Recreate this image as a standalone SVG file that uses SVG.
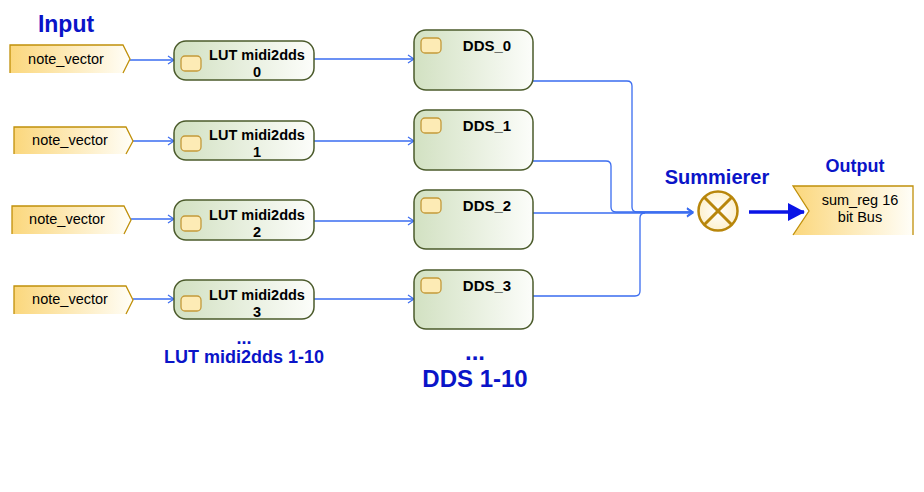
<svg xmlns="http://www.w3.org/2000/svg" width="924" height="492" viewBox="0 0 924 492">
<defs>
<linearGradient id="gNode" x1="0" y1="0" x2="1" y2="0">
<stop offset="0" stop-color="#d2e1c2"/>
<stop offset="1" stop-color="#fcfdfa"/>
</linearGradient>
<linearGradient id="gPort" x1="0" y1="0" x2="1" y2="0">
<stop offset="0" stop-color="#fbd77c"/>
<stop offset="1" stop-color="#fffef8"/>
</linearGradient>
<radialGradient id="gSum" cx="0.5" cy="0.5" r="0.6">
<stop offset="0" stop-color="#ffffff"/>
<stop offset="1" stop-color="#fdeec4"/>
</radialGradient>
<marker id="open" markerWidth="8" markerHeight="10" refX="7" refY="5" orient="auto" markerUnits="userSpaceOnUse">
<path d="M1,1 L7,5 L1,9" fill="none" stroke="#3a6cf0" stroke-width="1.2"/>
</marker>
<marker id="solid" markerWidth="18" markerHeight="20" refX="16" refY="10" orient="auto" markerUnits="userSpaceOnUse">
<path d="M0,1 L17,10 L0,19 Z" fill="#0a14e6"/>
</marker>
<style>
.node{fill:url(#gNode);stroke:#4b5b2b;stroke-width:1.5}
.pin{fill:#fdebb5;stroke:#c49a3a;stroke-width:1.3}
.port{fill:url(#gPort);stroke:none}
.edge{fill:none;stroke:#c0900a;stroke-width:1.3}
.conn{fill:none;stroke:#3a6cf0;stroke-width:1.3}
.t{font-family:"Liberation Sans",Arial,sans-serif;fill:#000;text-anchor:middle}
.b{font-weight:bold}
.lbl{font-family:"Liberation Sans",Arial,sans-serif;font-weight:bold;fill:#0a14c8;text-anchor:middle}
</style>
</defs>
<rect width="924" height="492" fill="#ffffff"/>

<text class="lbl" x="66" y="32" font-size="23">Input</text>
<text class="lbl" x="717" y="184" font-size="20">Summierer</text>
<text class="lbl" x="855" y="172" font-size="18">Output</text>
<text class="lbl" x="244" y="344" font-size="18">...</text>
<text class="lbl" x="244" y="363" font-size="18">LUT midi2dds 1-10</text>
<text class="lbl" x="475" y="360" font-size="24">...</text>
<text class="lbl" x="475" y="387" font-size="24">DDS 1-10</text>

<g id="connectors">
<line class="conn" x1="130" y1="60" x2="174" y2="60" marker-end="url(#open)"/>
<line class="conn" x1="133" y1="141" x2="174" y2="141" marker-end="url(#open)"/>
<line class="conn" x1="131" y1="219" x2="174" y2="219" marker-end="url(#open)"/>
<line class="conn" x1="133" y1="299" x2="174" y2="299" marker-end="url(#open)"/>
<line class="conn" x1="314" y1="59" x2="414" y2="59" marker-end="url(#open)"/>
<line class="conn" x1="314" y1="141" x2="414" y2="141" marker-end="url(#open)"/>
<line class="conn" x1="314" y1="221" x2="414" y2="221" marker-end="url(#open)"/>
<line class="conn" x1="314" y1="299" x2="414" y2="299" marker-end="url(#open)"/>
<path class="conn" d="M533,81 H627 Q632,81 632,86 V207 Q632,212 637,212 H693" marker-end="url(#open)"/>
<path class="conn" d="M533,161 H606 Q611,161 611,166 V207 Q611,212 616,212 H693" marker-end="url(#open)"/>
<path class="conn" d="M533,213 H693" marker-end="url(#open)"/>
<path class="conn" d="M533,296 H635 Q640,296 640,291 V218 Q640,213 645,213"/>
<line x1="749" y1="212" x2="804" y2="212" stroke="#0a14e6" stroke-width="3.5" marker-end="url(#solid)"/>
</g>

<g id="in0"><polygon class="port" points="10,45 123,45 130,59 123,73 10,73"/><polyline class="edge" points="10,73 10,45 123,45 130,59 123,73"/><text class="t" x="66" y="64" font-size="14.5">note_vector</text></g>
<g id="in1"><polygon class="port" points="14,127 126,127 133,141 126,154 14,154"/><polyline class="edge" points="14,154 14,127 126,127 133,141 126,154"/><text class="t" x="70" y="145" font-size="14.5">note_vector</text></g>
<g id="in2"><polygon class="port" points="12,206 124,206 131,220 124,234 12,234"/><polyline class="edge" points="12,234 12,206 124,206 131,220 124,234"/><text class="t" x="67" y="224" font-size="14.5">note_vector</text></g>
<g id="in3"><polygon class="port" points="14,286 126,286 133,300 126,314 14,314"/><polyline class="edge" points="14,314 14,286 126,286 133,300 126,314"/><text class="t" x="70" y="304" font-size="14.5">note_vector</text></g>

<g id="lut0"><rect class="node" x="174" y="41" width="140" height="39" rx="12"/><rect class="pin" x="181" y="56" width="20" height="15" rx="4"/><text class="t b" x="257" y="60" font-size="14.5">LUT midi2dds</text><text class="t b" x="257" y="77" font-size="14.5">0</text></g>
<g id="lut1"><rect class="node" x="174" y="121" width="140" height="39" rx="12"/><rect class="pin" x="181" y="136" width="20" height="15" rx="4"/><text class="t b" x="257" y="140" font-size="14.5">LUT midi2dds</text><text class="t b" x="257" y="157" font-size="14.5">1</text></g>
<g id="lut2"><rect class="node" x="174" y="200" width="140" height="40" rx="12"/><rect class="pin" x="181" y="216" width="20" height="15" rx="4"/><text class="t b" x="257" y="220" font-size="14.5">LUT midi2dds</text><text class="t b" x="257" y="237" font-size="14.5">2</text></g>
<g id="lut3"><rect class="node" x="174" y="280" width="140" height="39" rx="12"/><rect class="pin" x="181" y="296" width="20" height="15" rx="4"/><text class="t b" x="257" y="300" font-size="14.5">LUT midi2dds</text><text class="t b" x="257" y="317" font-size="14.5">3</text></g>

<g id="dds0"><rect class="node" x="414" y="30" width="119" height="60" rx="12"/><rect class="pin" x="421" y="38" width="20" height="15" rx="4"/><text class="t b" x="487" y="51" font-size="15">DDS_0</text></g>
<g id="dds1"><rect class="node" x="414" y="110" width="119" height="60" rx="12"/><rect class="pin" x="421" y="118" width="20" height="15" rx="4"/><text class="t b" x="487" y="131" font-size="15">DDS_1</text></g>
<g id="dds2"><rect class="node" x="414" y="190" width="119" height="59" rx="12"/><rect class="pin" x="421" y="198" width="20" height="15" rx="4"/><text class="t b" x="487" y="211" font-size="15">DDS_2</text></g>
<g id="dds3"><rect class="node" x="414" y="270" width="119" height="59" rx="12"/><rect class="pin" x="421" y="278" width="20" height="15" rx="4"/><text class="t b" x="487" y="291" font-size="15">DDS_3</text></g>

<g id="summierer">
<circle cx="718" cy="211" r="19.5" fill="url(#gSum)" stroke="#b8860b" stroke-width="2.5"/>
<line x1="704.5" y1="197.5" x2="731.5" y2="224.5" stroke="#b8860b" stroke-width="3"/>
<line x1="731.5" y1="197.5" x2="704.5" y2="224.5" stroke="#b8860b" stroke-width="3"/>
</g>

<g id="output"><polygon class="port" points="793,186 913,186 913,235 793,235 809,211"/><polyline class="edge" points="793,235 809,211 793,186 913,186 913,235"/><text class="t" x="860" y="205" font-size="14.5">sum_reg 16</text><text class="t" x="860" y="222" font-size="14.5">bit Bus</text></g>
</svg>
